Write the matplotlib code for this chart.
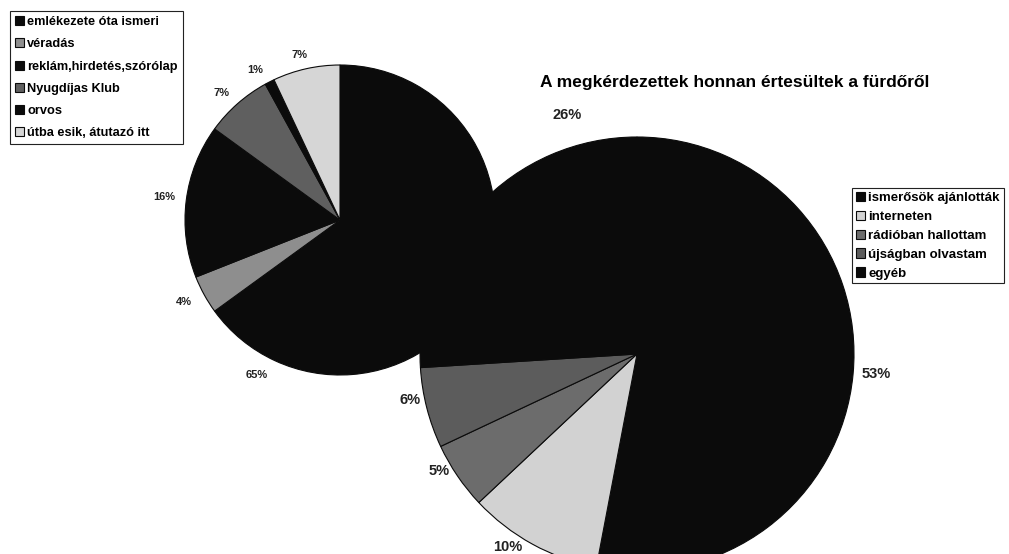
import matplotlib.pyplot as plt

plt.rcParams['font.family'] = ['Liberation Sans', 'DejaVu Sans']

# left pie: how long they have known the bath
left_names = ['emlékezete óta ismeri', 'véradás', 'reklám,hirdetés,szórólap',
              'Nyugdíjas Klub', 'orvos', 'útba esik, átutazó itt']
left_values = [65, 4, 16, 7, 1, 7]
left_colors = ['#0b0b0b', '#8e8e8e', '#0b0b0b', '#5f5f5f', '#0b0b0b', '#d6d6d6']

# right pie: where did they hear about it
right_names = ['ismerősök ajánlották', 'interneten', 'rádióban hallottam',
               'újságban olvastam', 'egyéb']
right_values = [53, 10, 5, 6, 26]
right_colors = ['#0b0b0b', '#d2d2d2', '#6c6c6c', '#5c5c5c', '#0b0b0b']

title = 'A megkérdezettek honnan értesültek a fürdőről'

W, H = 1009, 554

# label positions in pixel coords (x, y from top), as placed in the original
left_label_pos = [(257, 375), (184, 302), (164, 197), (222, 93), (255, 70), (299, 55)]
right_label_pos = [(876, 374), (508, 547), (439, 471), (410, 400), (567, 115)]

fig = plt.figure(figsize=(W / 100, H / 100), dpi=100)
ax = fig.add_axes([0, 0, 1, 1])

wp = dict(edgecolor='#0b0b0b', linewidth=0.8)
left_wedges, _ = ax.pie(left_values, colors=left_colors, startangle=90,
                        counterclock=False, center=(340, H - 220), radius=155,
                        wedgeprops=wp)
right_wedges, _ = ax.pie(right_values, colors=right_colors, startangle=90,
                         counterclock=False, center=(637, H - 354), radius=217,
                         wedgeprops=wp)

for v, (x, y) in zip(left_values, left_label_pos):
    ax.text(x, H - y, f'{v}%', ha='center', va='center', fontsize=8,
            fontweight='bold', color='#222222')
for v, (x, y) in zip(right_values, right_label_pos):
    ax.text(x, H - y, f'{v}%', ha='center', va='center', fontsize=10.5,
            fontweight='bold', color='#222222')

ax.text(540, H - 83, title, ha='left', va='center', fontsize=12.5,
        fontweight='bold', color='black')

ax.set_xlim(0, W)
ax.set_ylim(0, H)
ax.set_aspect('equal')
ax.axis('off')

leg1 = fig.legend(left_wedges, left_names, loc='upper left',
                  bbox_to_anchor=(10 / W, 1 - 11 / H), frameon=True, fancybox=False,
                  edgecolor='#222222', framealpha=1, borderpad=0.4,
                  labelspacing=0.8, handlelength=0.7, handleheight=0.7,
                  handletextpad=0.25, borderaxespad=0,
                  prop=dict(size=9.2, weight='bold'))
leg1.get_frame().set_linewidth(0.8)

leg2 = fig.legend(right_wedges, right_names, loc='upper left',
                  bbox_to_anchor=(852 / W, 1 - 188 / H), frameon=True,
                  fancybox=False, edgecolor='#222222', framealpha=1,
                  borderpad=0.3, labelspacing=0.5, handlelength=0.7,
                  handleheight=0.7, handletextpad=0.25, borderaxespad=0,
                  prop=dict(size=9.5, weight='bold'))
leg2.get_frame().set_linewidth(0.8)

fig.savefig('out.png', dpi=100)
